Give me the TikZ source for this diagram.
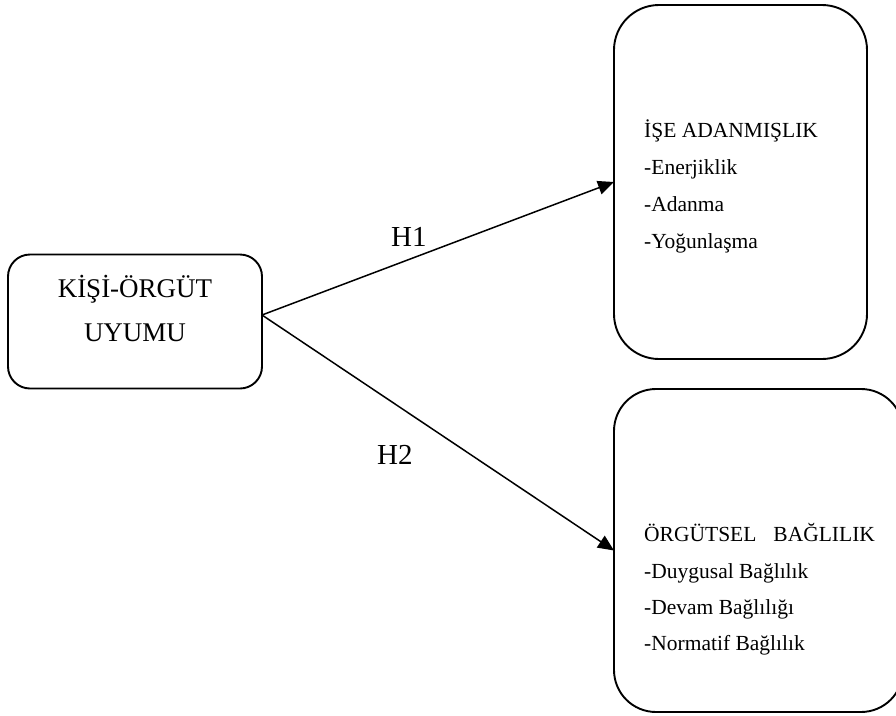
\documentclass[tikz,border=0pt]{standalone}
\usepackage{fontspec}
\setmainfont{Liberation Serif}
\usetikzlibrary{arrows.meta}
\begin{document}
\begin{tikzpicture}[x=1pt,y=-1pt,
  box/.style={draw=black, line width=1.9pt, rectangle, inner sep=0pt, outer sep=0pt},
  link/.style={draw=black, line width=1.5pt, -{Triangle[length=16pt,width=14pt]}},
  big/.style={inner sep=0pt, font=\fontsize{27}{32}\selectfont},
  hyp/.style={inner sep=0pt, font=\fontsize{29}{34}\selectfont},
  item/.style={inner sep=0pt, anchor=base west, font=\fontsize{21.5}{26}\selectfont}]
\clip (0,0) rectangle (896,715);
\fill[white] (0,0) rectangle (896,715);

% the three boxes
\node[box, rounded corners=22pt, minimum width=254pt, minimum height=134pt] (kou) at (135,321.5) {};
\node[box, rounded corners=45pt, minimum width=253pt, minimum height=354pt] (isa) at (740.5,182) {};
\node[box, rounded corners=42pt, minimum width=289pt, minimum height=323pt] (orb) at (758.5,550.5) {};

% left box text
\node[big, anchor=base] (k1) at (135,297) {KİŞİ-ÖRGÜT};
\node[big, anchor=base] (k2) at (135,341) {UYUMU};

% work engagement
\node[item] (a1) at (644,137) {İŞE ADANMIŞLIK};
\node[item] (a2) at (644,174) {-Enerjiklik};
\node[item] (a3) at (644,211) {-Adanma};
\node[item] (a4) at (644,248) {-Yoğunlaşma};

% organizational commitment
\node[item] (b1) at (644,541) {ÖRGÜTSEL\hspace{17pt}BAĞLILIK};
\node[item] (b2) at (644,578) {-Duygusal Bağlılık};
\node[item] (b3) at (644,614) {-Devam Bağlılığı};
\node[item] (b4) at (644,650) {-Normatif Bağlılık};

% hypotheses
\coordinate (src) at ([yshift=6.5pt]kou.east);
\draw[link] (src) -- (isa.west);
\draw[link] (src) -- (orb.west);
\node[hyp, anchor=base west] (h1) at (391,246) {H1};
\node[hyp, anchor=base west] (h2) at (377,464) {H2};
\end{tikzpicture}
\end{document}
